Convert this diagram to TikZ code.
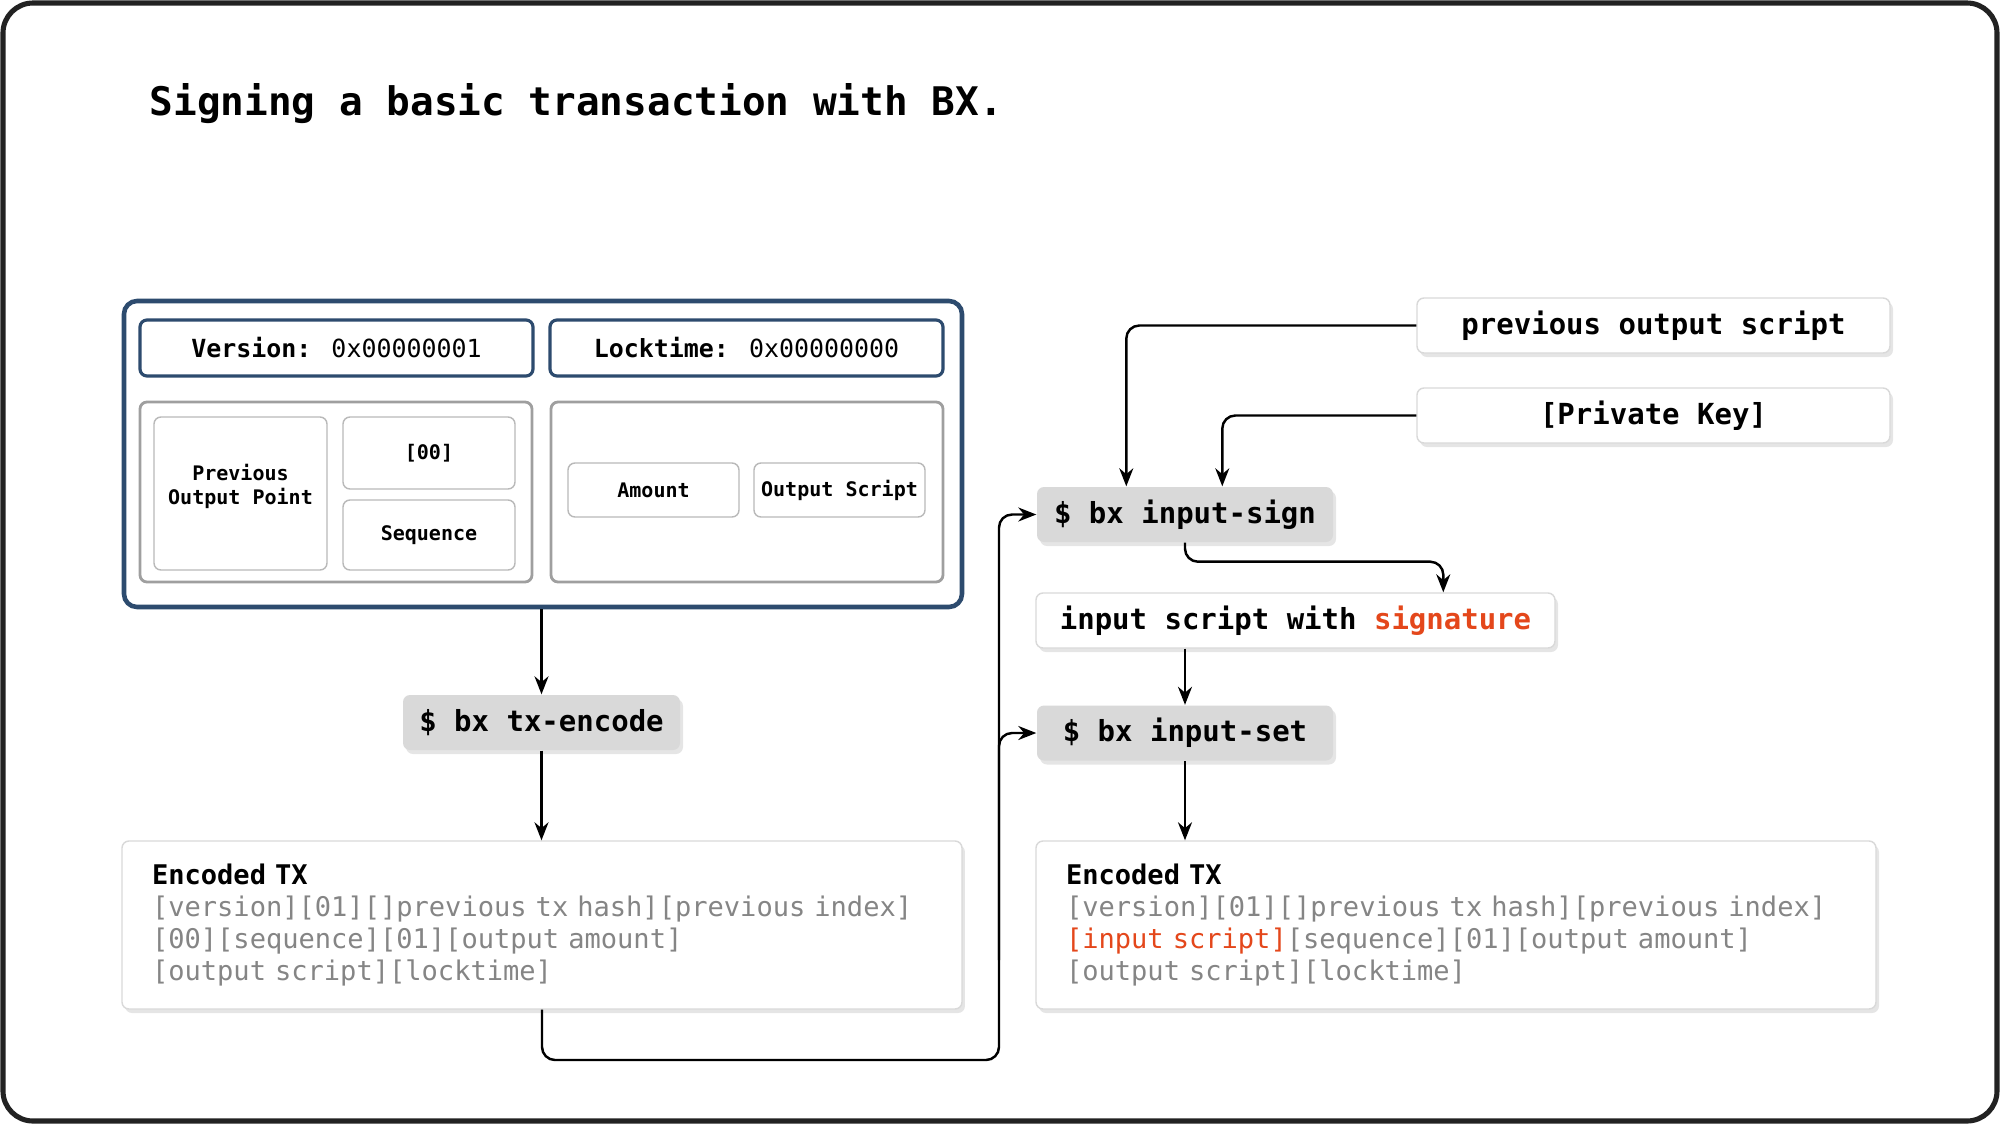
\documentclass[tikz,border=0pt]{standalone}
\usepackage{fontspec}
\setmainfont{DejaVu Sans Mono}
\usetikzlibrary{arrows.meta,shadows}
\definecolor{txblue}{HTML}{2D4B6E}
\definecolor{cmdgray}{HTML}{D9D9D9}
\definecolor{hexgray}{HTML}{858585}
\definecolor{sigred}{HTML}{E4471B}
\definecolor{framegray}{HTML}{222222}

\begin{document}
\begin{tikzpicture}[x=0.1mm,y=-0.1mm,
	field/.style={draw=txblue,line width=0.9pt,rounded corners=0.7mm,inner sep=0pt,
		minimum width=39.3mm,minimum height=5.6mm,font=\fontsize{7.1}{8.5}\selectfont},
	group/.style={draw=gray!75,line width=0.8pt,rounded corners=0.7mm,inner sep=0pt,
		minimum width=39.2mm,minimum height=18mm},
	cell/.style={draw=gray!55,line width=0.4pt,rounded corners=0.7mm,inner sep=0pt,align=center,
		font=\fontsize{5.7}{6.9}\selectfont\bfseries},
	cmd/.style={fill=cmdgray,rounded corners=0.7mm,inner sep=0pt,minimum width=29.6mm,minimum height=5.5mm,
		drop shadow={opacity=0.2,shadow xshift=0.3mm,shadow yshift=-0.4mm},
		font=\fontsize{8.25}{10}\selectfont\bfseries},
	note/.style={draw=gray!30,fill=white,rounded corners=0.7mm,inner sep=0pt,minimum height=5.5mm,
		drop shadow={opacity=0.2,shadow xshift=0.3mm,shadow yshift=-0.4mm},
		font=\fontsize{8.25}{10}\selectfont\bfseries},
	encbox/.style={draw=gray!30,fill=white,rounded corners=0.7mm,inner xsep=3mm,inner ysep=0pt,
		text width=78mm,align=left,minimum height=16.8mm,
		drop shadow={opacity=0.2,shadow xshift=0.3mm,shadow yshift=-0.4mm},
		font=\fontsize{7.7}{9.1}\selectfont},
	link/.style={-{Stealth[length=1.8mm,width=1.4mm]},line width=0.7pt,rounded corners=1.3mm}]
	\useasboundingbox (0,0) rectangle (2000,1124);
	\draw[framegray,line width=1.45pt,rounded corners=3mm,fill=white] (3,3) rectangle (1997,1121);

	\node[anchor=west,inner sep=0pt,font=\fontsize{11.2}{13}\selectfont\bfseries] (title) at (149,104)
		{Signing a basic transaction with BX.};

	% transaction
	\node[draw=txblue,line width=1.3pt,rounded corners=1.3mm,minimum width=83.8mm,minimum height=30.6mm] (tx) at (543,454) {};
	\node[field] (ver) at (336.5,348) {\textbf{Version:} 0x00000001};
	\node[field] (lock) at (746.5,348) {\textbf{Locktime:} 0x00000000};
	\node[group] (inputs) at (336,492) {};
	\node[group] (outputs) at (747,492) {};
	\node[cell,minimum width=17.3mm,minimum height=15.3mm,text depth=1.85mm] (prevpt) at (240.5,493.5) {Previous\\Output Point};
	\node[cell,minimum width=17.2mm,minimum height=7.2mm] (len) at (429,453) {[00]};
	\node[cell,minimum width=17.2mm,minimum height=7mm] (seq) at (429,535) {Sequence};
	\node[cell,minimum width=17.1mm,minimum height=5.4mm] (amount) at (653.5,490) {Amount};
	\node[cell,minimum width=17.1mm,minimum height=5.4mm] (outscr) at (839.5,490) {Output Script};

	% left column
	\node[cmd,minimum width=27.7mm] (encode) at (541.5,722.5) {\$ bx tx-encode};
	\node[encbox] (enc1) at (542,925) {\textbf{Encoded TX}\\
		\color{hexgray}[version][01][]previous tx hash][previous index]\\
		{}[00][sequence][01][output amount]\\
		{}[output script][locktime]};

	% right column
	\node[note,minimum width=47.3mm] (prevout) at (1653.5,325.5) {previous output script};
	\node[note,minimum width=47.3mm] (privkey) at (1653.5,415.5) {[Private Key]};
	\node[cmd] (sign) at (1185,514.5) {\$ bx input-sign};
	\node[note,minimum width=51.9mm] (sig) at (1295.5,620.5) {input script with \textcolor{sigred}{signature}};
	\node[cmd] (set) at (1185,733) {\$ bx input-set};
	\node[encbox] (enc2) at (1456,925) {\textbf{Encoded TX}\\
		\color{hexgray}[version][01][]previous tx hash][previous index]\\
		\textcolor{sigred}{[input script]}[sequence][01][output amount]\\
		{}[output script][locktime]};

	\coordinate (turn) at (999,1060);
	\coordinate (up) at (999,960);

	\draw[link] (tx.south -| encode.north) -- (encode.north);
	\draw[link] (encode.south) -- (encode.south |- enc1.north);
	\draw[link] (enc1.south) |- (turn) |- (sign.west);
	\draw[link] (up) |- (set.west);
	\draw[link] (prevout.west) -| ([xshift=9mm]sign.north west);
	\draw[link] (privkey.west) -| ([xshift=18.6mm]sign.north west);
	\draw[link] (sign.south) -- ++(0,19) -| ([xshift=40.8mm]sig.north west);
	\draw[link] (sig.south -| set.north) -- (set.north);
	\draw[link] (set.south) -- (set.south |- enc2.north);
\end{tikzpicture}
\end{document}
